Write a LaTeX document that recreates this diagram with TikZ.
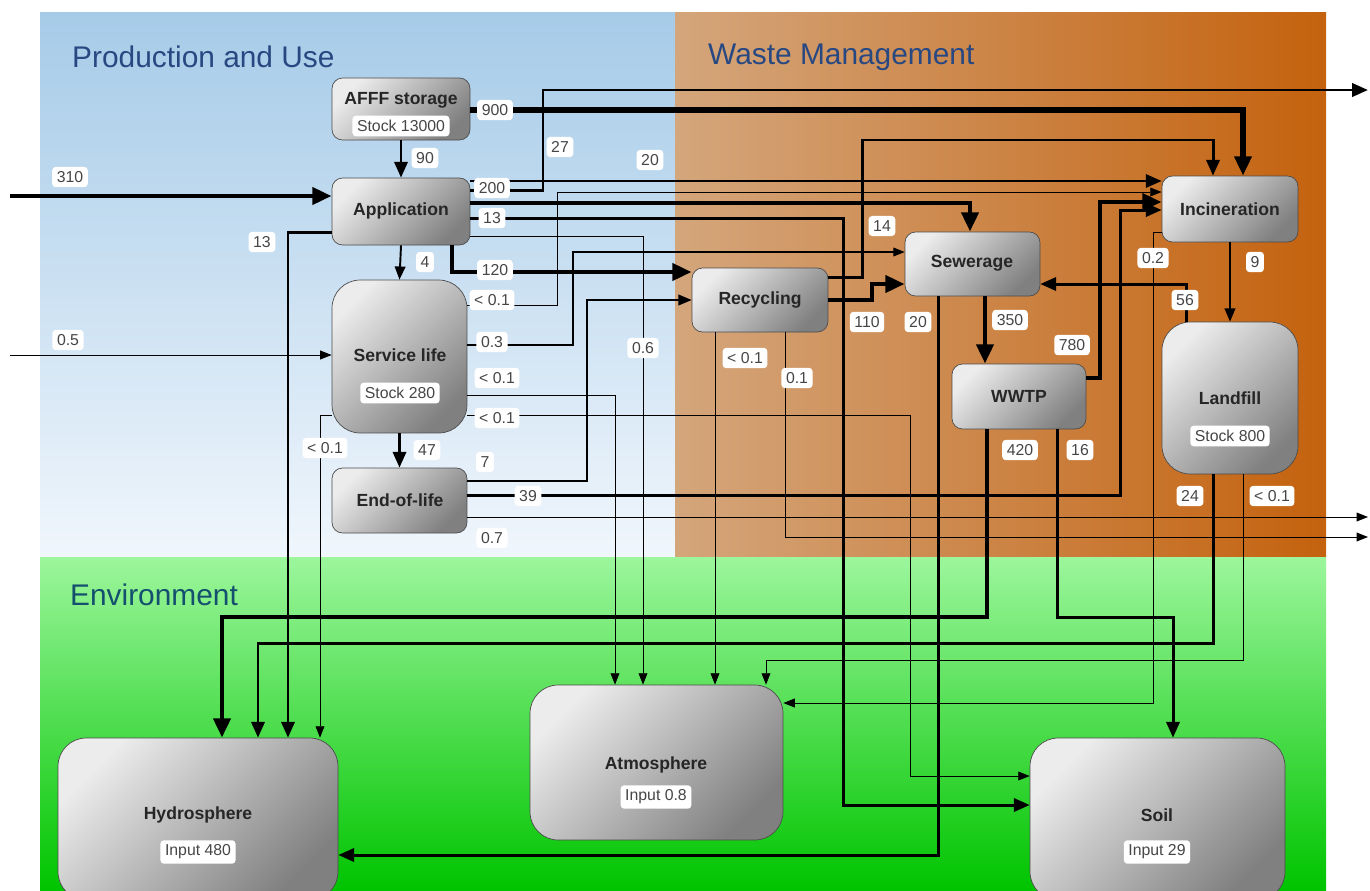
\documentclass[tikz,border=0pt]{standalone}
\usepackage{fontspec}
\setmainfont{Liberation Sans}
\usetikzlibrary{arrows.meta, calc, positioning}
\definecolor{produsetop}{RGB}{166,203,232}
\definecolor{produsebot}{RGB}{240,246,252}
\definecolor{wasteleft}{RGB}{212,166,124}
\definecolor{wasteright}{RGB}{196,98,14}
\definecolor{envtop}{RGB}{156,246,156}
\definecolor{envbot}{RGB}{0,196,0}
\definecolor{boxlight}{RGB}{236,236,236}
\definecolor{boxdark}{RGB}{128,128,128}
\definecolor{regiontitle}{RGB}{40,72,130}
\definecolor{envtitle}{RGB}{20,80,110}
\definecolor{amountink}{RGB}{70,70,70}

\begin{document}
\begin{tikzpicture}[x=0.02cm, y=-0.02cm,
	box/.style={draw=gray!60!black, line width=0.4pt, rounded corners=6pt, top color=boxlight, bottom color=boxdark, shading angle=45, inner sep=0pt},
	bigbox/.style={box, rounded corners=16pt},
	boxname/.style={font=\bfseries\fontsize{10}{12}\selectfont, text=black!85},
	amount/.style={fill=white, rounded corners=2pt, inner sep=2.6pt, font=\fontsize{9}{10}\selectfont, text=amountink},
	region/.style={anchor=west, font=\fontsize{17}{20}\selectfont, text=regiontitle},
	flowhuge/.style={line width=2.8pt, -{Triangle[length=11pt,width=9.5pt]}},
	flowbig/.style={line width=1.7pt, -{Triangle[length=9pt,width=7.5pt]}},
	flowmid/.style={line width=1.1pt, -{Triangle[length=7.5pt,width=6pt]}},
	flowthin/.style={line width=0.55pt, -{Triangle[length=6.5pt,width=5pt]}}]
	
	\useasboundingbox (0,0) rectangle (1370,890);
	\clip (0,0) rectangle (1370,890);
	
	% regions
	\shade[top color=produsetop, bottom color=produsebot] (40,12) rectangle (675,557);
	\shade[left color=wasteleft, right color=wasteright] (675,12) rectangle (1326,557);
	\shade[top color=envtop, bottom color=envbot] (40,557) rectangle (1326,890);
	\node[region] (tprod) at (66,57) {Production and Use};
	\node[region] (twaste) at (702,57) {Waste Management};
	\node[region, text=envtitle] (tenv) at (64,595) {Environment};
	
	% processes
	\node[box, minimum width=2.76cm, minimum height=1.24cm] (afff) at (401,109) {};
	\node[box, minimum width=2.76cm, minimum height=1.34cm] (app) at (401,211.5) {};
	\node[bigbox, minimum width=2.7cm, minimum height=3.06cm] (serv) at (399.5,356.5) {};
	\node[box, minimum width=2.7cm, minimum height=1.3cm] (eol) at (399.5,500.5) {};
	\node[box, minimum width=2.72cm, minimum height=1.28cm] (recy) at (760,300) {};
	\node[box, minimum width=2.7cm, minimum height=1.28cm] (sew) at (972.5,264) {};
	\node[box, minimum width=2.68cm, minimum height=1.3cm] (wwtp) at (1019,396.5) {};
	\node[box, minimum width=2.72cm, minimum height=1.32cm] (inc) at (1230,209) {};
	\node[bigbox, minimum width=2.72cm, minimum height=3.04cm] (land) at (1230,398) {};
	\node[bigbox, minimum width=5.6cm, minimum height=3.24cm] (hydro) at (198,819) {};
	\node[bigbox, minimum width=5.06cm, minimum height=3.1cm] (atmo) at (656.5,762.5) {};
	\node[bigbox, minimum width=5.1cm, minimum height=3.24cm] (soil) at (1157.5,819) {};
	
	% sources and exports
	\coordinate (src310) at (10,196);
	\coordinate (src05) at (10,355);
	\coordinate (exp27) at (1368,90);
	\coordinate (exp07) at (1368,517);
	\coordinate (exp01) at (1368,537);
	
	% flows
	\draw[flowhuge] (src310) -- (app.west |- 0,196);
	\draw[flowthin] (src05) -- (serv.west |- 0,355);
	\draw[flowbig] (afff.south) -- (app.north);
	\draw[flowhuge, line width=3.2pt] (afff.east |- 0,110) -| (inc.north -| 1243,0);
	\draw[flowbig] (app.east |- 0,190) -| (543,90) -- (exp27);
	\draw[flowbig, line width=1.4pt] (app.east |- 0,181) -- (inc.west |- 0,181);
	\draw[flowhuge] (app.east |- 0,203) -| (sew.north -| 970,0);
	\draw[flowbig] (app.east |- 0,218) -| (843,805) -- (soil.west |- 0,805);
	\draw[flowthin] (app.east |- 0,236) -| (atmo.north -| 643,0);
	\draw[flowhuge] (app.south -| 452,0) |- (recy.west |- 0,272);
	\draw[flowmid] (app.south) -- (serv.north);
	\draw[flowbig] (app.west |- 0,232) -| (hydro.north -| 288,0);
	\draw[flowthin] (serv.east |- 0,305) -| (557,192) -- (inc.west |- 0,192);
	\draw[flowthin, line width=0.8pt] (serv.east |- 0,345) -| (573,252) -- (sew.west |- 0,252);
	\draw[flowthin] (serv.east |- 0,395) -| (atmo.north -| 615,0);
	\draw[flowthin] (serv.east |- 0,415) -| (910,776) -- (soil.west |- 0,776);
	\draw[flowthin] (serv.west |- 0,415) -| (hydro.north -| 320,0);
	\draw[flowbig] (serv.south) -- (eol.north);
	\draw[flowmid] (eol.east |- 0,481) -| (587,300) -- (recy.west |- 0,300);
	\draw[flowbig] (eol.east |- 0,495) -| (1120,210) -- (inc.west |- 0,210);
	\draw[flowthin] (eol.east |- 0,517) -- (exp07);
	\draw[flowbig] (recy.east |- 0,277) -| (862,140) -| (inc.north -| 1213,0);
	\draw[flowhuge] (recy.east |- 0,300) -- (872,300) -- (872,284) -- (sew.west |- 0,284);
	\draw[flowthin] (recy.south -| 715,0) -- (atmo.north -| 715,0);
	\draw[flowthin] (recy.south -| 785,0) |- (exp01);
	\draw[flowhuge] (sew.south -| 985,0) -- (wwtp.north -| 985,0);
	\draw[flowbig] (sew.south -| 938,0) |- (hydro.east |- 0,855);
	\draw[flowhuge] (wwtp.east |- 0,378) -| (1100,202) -- (inc.west |- 0,202);
	\draw[flowhuge] (wwtp.south -| 987,0) |- (222,617) -- (hydro.north -| 222,0);
	\draw[flowbig] (wwtp.south -| 1057,0) |- (1173,617) -- (soil.north -| 1173,0);
	\draw[flowmid] (inc.south -| 1230,0) -- (land.north -| 1230,0);
	\draw[flowthin] (inc.west |- 0,232) -| (1153,703) -- (atmo.east |- 0,703);
	\draw[flowbig] (land.north -| 1186,0) |- (sew.east |- 0,284);
	\draw[flowbig] (land.south -| 1213,0) |- (258,643) -- (hydro.north -| 258,0);
	\draw[flowthin] (land.south -| 1243,0) |- (766,660) -- (atmo.north -| 766,0);
	
	% process names and stocks
	\node[boxname] (afffname) at (401,100) {AFFF storage};
	\node[amount] (afffstock) at (401,126) {Stock 13000};
	\node[boxname] (appname) at (401,211) {Application};
	\node[boxname] (servname) at (400,355) {Service life};
	\node[amount] (servstock) at (400,393) {Stock 280};
	\node[boxname] (eolname) at (400,500) {End-of-life};
	\node[boxname] (recyname) at (760,300) {Recycling};
	\node[boxname] (sewname) at (972,263) {Sewerage};
	\node[boxname] (wwtpname) at (1019,396) {WWTP};
	\node[boxname] (incname) at (1230,209) {Incineration};
	\node[boxname] (landname) at (1230,398) {Landfill};
	\node[amount] (landstock) at (1230,436) {Stock 800};
	\node[boxname] (hydroname) at (198,815) {Hydrosphere};
	\node[amount] (hydroin) at (198,852) {Input 480};
	\node[boxname] (atmoname) at (656,765) {Atmosphere};
	\node[amount] (atmoin) at (656,797) {Input 0.8};
	\node[boxname] (soilname) at (1157,815) {Soil};
	\node[amount] (soilin) at (1157,852) {Input 29};
	
	% flow amounts
	\node[amount] (a310) at (70,177) {310};
	\node[amount] (a05) at (68,340) {0.5};
	\node[amount] (a90) at (425,158) {90};
	\node[amount] (a900) at (495,110) {900};
	\node[amount] (a27) at (560,147) {27};
	\node[amount] (a20app) at (650,160) {20};
	\node[amount] (a200) at (492,188) {200};
	\node[amount] (a13soil) at (492,218) {13};
	\node[amount] (a4) at (425,262) {4};
	\node[amount] (a120) at (495,270) {120};
	\node[amount] (a13hydro) at (262,242) {13};
	\node[amount] (aservinc) at (492,300) {< 0.1};
	\node[amount] (a03) at (492,342) {0.3};
	\node[amount] (aservatmo) at (497,378) {< 0.1};
	\node[amount] (aservsoil) at (497,418) {< 0.1};
	\node[amount] (aservhydro) at (325,448) {< 0.1};
	\node[amount] (a47) at (427,450) {47};
	\node[amount] (a7) at (485,462) {7};
	\node[amount] (a39) at (528,496) {39};
	\node[amount] (a07) at (492,538) {0.7};
	\node[amount] (a06) at (643,348) {0.6};
	\node[amount] (a14) at (882,226) {14};
	\node[amount] (a110) at (867,322) {110};
	\node[amount] (a20sew) at (918,322) {20};
	\node[amount] (a350) at (1010,320) {350};
	\node[amount] (a780) at (1072,345) {780};
	\node[amount] (arecyatmo) at (745,358) {< 0.1};
	\node[amount] (a01) at (797,378) {0.1};
	\node[amount] (a420) at (1020,450) {420};
	\node[amount] (a16) at (1080,450) {16};
	\node[amount] (a02) at (1153,258) {0.2};
	\node[amount] (a9) at (1255,262) {9};
	\node[amount] (a56) at (1185,300) {56};
	\node[amount] (a24) at (1190,496) {24};
	\node[amount] (alandatmo) at (1272,496) {< 0.1};
\end{tikzpicture}
\end{document}
